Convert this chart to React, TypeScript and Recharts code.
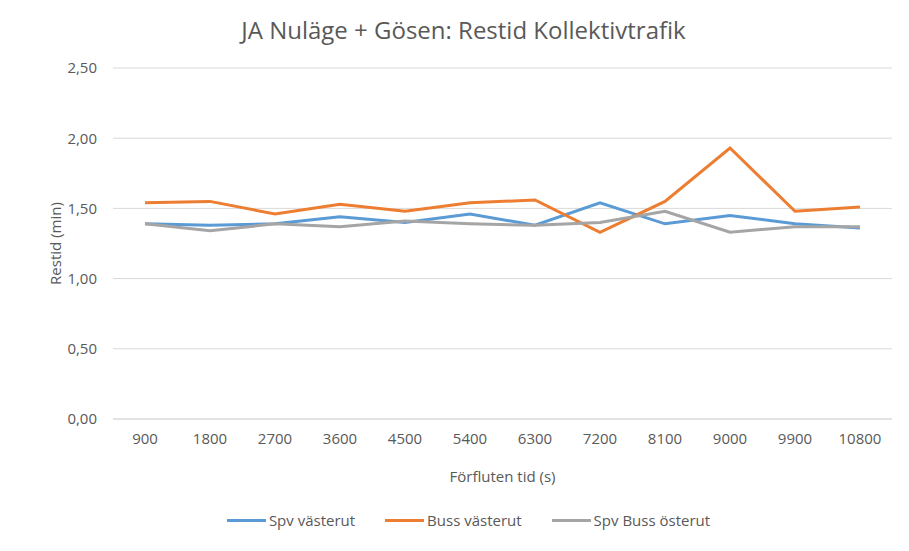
import { LineChart, Line, XAxis, YAxis, CartesianGrid, Legend } from 'recharts'

const tider = ['900', '1800', '2700', '3600', '4500', '5400', '6300', '7200', '8100', '9000', '9900', '10800']
const spvVasterut = [1.39, 1.38, 1.39, 1.44, 1.40, 1.46, 1.38, 1.54, 1.39, 1.45, 1.39, 1.36]
const bussVasterut = [1.54, 1.55, 1.46, 1.53, 1.48, 1.54, 1.56, 1.33, 1.55, 1.93, 1.48, 1.51]
const spvBussOsterut = [1.39, 1.34, 1.39, 1.37, 1.41, 1.39, 1.38, 1.40, 1.48, 1.33, 1.37, 1.37]
const yTicks = [0, 0.5, 1, 1.5, 2, 2.5]

const series = [
  { key: 'spv', name: 'Spv västerut', color: '#5B9BD5' },
  { key: 'buss', name: 'Buss västerut', color: '#ED7D31' },
  { key: 'ost', name: 'Spv Buss österut', color: '#A5A5A5' }
]

const data = tider.map((t, i) => ({
  tid: t,
  spv: spvVasterut[i],
  buss: bussVasterut[i],
  ost: spvBussOsterut[i]
}))

const font = '"Open Sans", sans-serif'
const textColor = '#595959'

const LegendContent = () => (
  <div style={{ display: 'flex', justifyContent: 'center', gap: 30, fontFamily: font, fontSize: 15, color: textColor }}>
    {series.map((s) => (
      <div key={s.key} style={{ display: 'flex', alignItems: 'center' }}>
        <span style={{ display: 'inline-block', width: 39, height: 3, background: s.color, marginRight: 3 }} />
        <span>{s.name}</span>
      </div>
    ))}
  </div>
)

export default function App() {
  return (
    <div style={{ position: 'absolute', left: 0, top: 0, width: 909, height: 551, background: '#fff' }}>
      <div
        style={{
          position: 'absolute',
          top: 13,
          left: 9,
          width: 909,
          textAlign: 'center',
          fontFamily: font,
          fontSize: 24,
          color: textColor
        }}
      >
        JA Nuläge + Gösen: Restid Kollektivtrafik
      </div>
      <LineChart
        width={909}
        height={551}
        data={data}
        margin={{ top: 68, right: 17, bottom: 11, left: 45 }}
      >
        <CartesianGrid vertical={false} stroke="#D9D9D9" />
        <XAxis
          dataKey="tid"
          height={91}
          padding={{ left: 32, right: 32 }}
          axisLine={{ stroke: '#D9D9D9' }}
          tickLine={false}
          tickSize={0}
          tickMargin={14}
          tick={{ fill: textColor, fontSize: 15, fontFamily: font }}
          label={{
            value: 'Förfluten tid (s)',
            position: 'insideBottom',
            offset: 28,
            fill: textColor,
            fontSize: 15,
            fontFamily: font
          }}
        />
        <YAxis
          width={68}
          domain={[0, 2.5]}
          ticks={yTicks}
          axisLine={false}
          tickLine={false}
          tickSize={0}
          tickMargin={16}
          tickFormatter={(v: number) => v.toFixed(2).replace('.', ',')}
          tick={{ fill: textColor, fontSize: 15, fontFamily: font }}
          label={{
            value: 'Restid (min)',
            angle: -90,
            position: 'insideLeft',
            offset: 11,
            style: { textAnchor: 'middle' },
            fill: textColor,
            fontSize: 15,
            fontFamily: font
          }}
        />
        <Legend verticalAlign="bottom" height={30} content={<LegendContent />} />
        {series.map((s) => (
          <Line
            key={s.key}
            type="linear"
            dataKey={s.key}
            name={s.name}
            stroke={s.color}
            strokeWidth={3}
            dot={false}
            activeDot={false}
            isAnimationActive={false}
          />
        ))}
      </LineChart>
    </div>
  )
}
